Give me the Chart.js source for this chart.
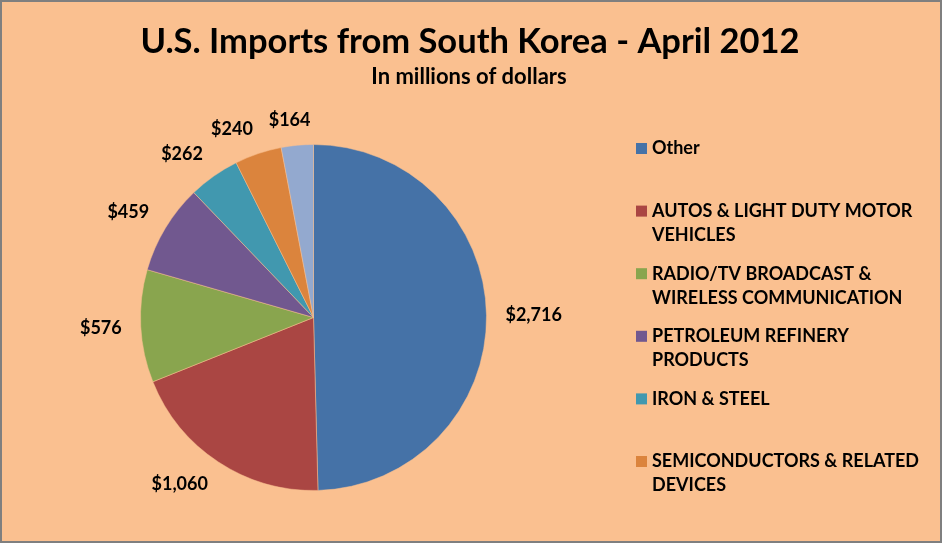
<!DOCTYPE html>
<html>
<head>
<meta charset="utf-8">
<title>U.S. Imports from South Korea - April 2012</title>
<script src="https://cdn.jsdelivr.net/npm/chart.js@4.4.1/dist/chart.umd.min.js"></script>
<style>
  html, body { margin: 0; padding: 0; background: #FAC090; }
  #wrap { position: relative; width: 942px; height: 543px; background: #FAC090; }
  #pie { position: absolute; left: 0; top: 0; }
  #frame { position: absolute; left: 0; top: 0; width: 942px; height: 543px;
           box-sizing: border-box; border: 2px solid #7f7f7f; pointer-events: none; }
</style>
</head>
<body>
<div id="wrap">
  <canvas id="pie" width="942" height="543"></canvas>
  <div id="frame"></div>
</div>
<script>
// data (millions of dollars)
const categories = [
  "Other",
  "AUTOS & LIGHT DUTY MOTOR VEHICLES",
  "RADIO/TV BROADCAST & WIRELESS COMMUNICATION",
  "PETROLEUM REFINERY PRODUCTS",
  "IRON & STEEL",
  "SEMICONDUCTORS & RELATED DEVICES",
  "" // 7th slice, its legend entry is cut off in the original
];
const values = [2716, 1060, 576, 459, 262, 240, 164];
const colors = ["#4572A7", "#AA4643", "#89A54E", "#71588F", "#4198AF", "#DB843D", "#93A9CF"];

const titleText = "U.S. Imports from South Korea - April 2012";
const subtitleText = "In millions of dollars";
const legendShown = 6;

const FONT = "Lato, 'Open Sans', sans-serif";

const fmt = v => "$" + v.toLocaleString("en-US");
const clamp = v => Math.max(-1, Math.min(1, v));

// title + subtitle, centred on the whole canvas
const headerPlugin = {
  id: "header",
  afterDraw(chart) {
    const ctx = chart.ctx;
    ctx.save();
    ctx.fillStyle = "#000";
    ctx.textAlign = "center";
    ctx.textBaseline = "alphabetic";
    ctx.font = "bold 34.5px " + FONT;
    ctx.fillText(titleText, chart.width / 2 - 1, 53);
    ctx.font = "bold 22px " + FONT;
    ctx.fillText(subtitleText, chart.width / 2 - 2, 84);
    ctx.restore();
  }
};

// value labels placed just outside each slice
const outsideLabels = {
  id: "outsideLabels",
  afterDatasetsDraw(chart) {
    const ctx = chart.ctx;
    const meta = chart.getDatasetMeta(0);
    ctx.save();
    ctx.font = "bold 18px " + FONT;
    ctx.fillStyle = "#000";
    ctx.textAlign = "center";
    ctx.textBaseline = "middle";
    meta.data.forEach((arc, i) => {
      const p = arc.getProps(["x", "y", "startAngle", "endAngle", "outerRadius"], true);
      const mid = (p.startAngle + p.endAngle) / 2;
      const ux = Math.cos(mid), uy = Math.sin(mid);
      const text = fmt(values[i]);
      const w = ctx.measureText(text).width;
      const r = p.outerRadius + 19;
      const cx = p.x + ux * r + clamp(3 * ux) * w / 2;
      const cy = p.y + uy * r + clamp(3 * uy) * 6;
      ctx.fillText(text, cx, cy);
    });
    ctx.restore();
  }
};

function wrapText(ctx, text, maxW) {
  const words = text.split(" ");
  const lines = [];
  let line = "";
  words.forEach(word => {
    const test = line ? line + " " + word : word;
    if (line && ctx.measureText(test).width > maxW) {
      lines.push(line);
      line = word;
    } else {
      line = test;
    }
  });
  if (line) lines.push(line);
  return lines;
}

// legend on the right, evenly spaced like the spreadsheet one
const sideLegend = {
  id: "sideLegend",
  afterDraw(chart) {
    const ctx = chart.ctx;
    const bg = chart.data.datasets[0].backgroundColor;
    ctx.save();
    ctx.font = "bold 18px " + FONT;
    ctx.textBaseline = "middle";
    ctx.textAlign = "left";
    const x0 = 636, firstY = 148.5, step = 62.6, lineH = 24;
    for (let i = 0; i < legendShown; i++) {
      const y = firstY + i * step;
      ctx.fillStyle = bg[i];
      ctx.fillRect(x0, y - 5.5, 11, 11);
      ctx.fillStyle = "#000";
      wrapText(ctx, chart.data.labels[i], 278).forEach((ln, k) => {
        ctx.fillText(ln, x0 + 16, y + k * lineH);
      });
    }
    ctx.restore();
  }
};

new Chart(document.getElementById("pie"), {
  type: "pie",
  data: {
    labels: categories,
    datasets: [{
      data: values,
      backgroundColor: colors,
      borderColor: "rgba(250,192,144,0.5)",
      borderWidth: 1
    }]
  },
  options: {
    responsive: false,
    animation: false,
    layout: { padding: { left: 140, right: 455, top: 144, bottom: 52 } },
    plugins: {
      legend: { display: false },
      title: { display: false },
      tooltip: { enabled: false }
    }
  },
  plugins: [headerPlugin, outsideLabels, sideLegend]
});
</script>
</body>
</html>
